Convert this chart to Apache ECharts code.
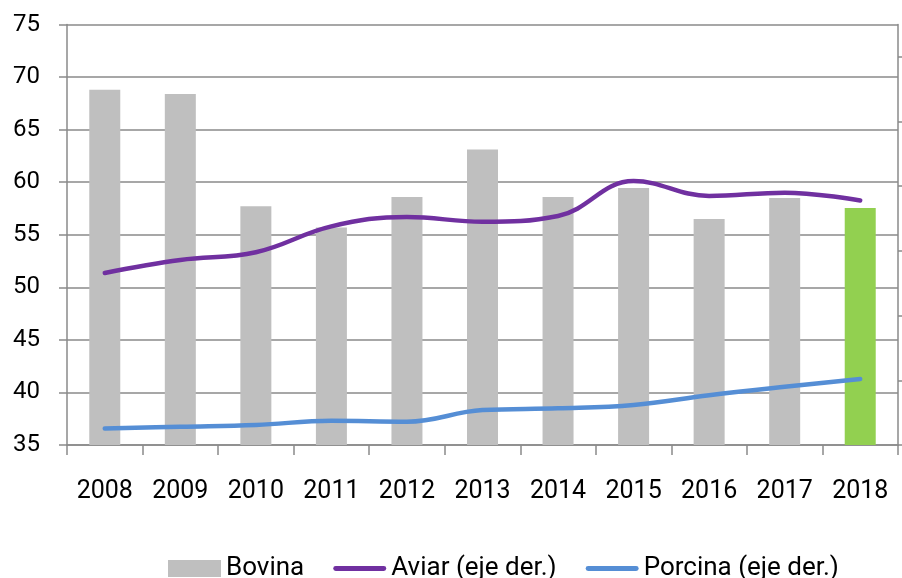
<!DOCTYPE html>
<html>
<head>
<meta charset="utf-8">
<script src="https://cdn.jsdelivr.net/npm/echarts@6/dist/echarts.min.js"></script>
<style>html,body{margin:0;padding:0;background:#fff}#c{width:902px;height:578px}</style>
</head>
<body>
<div id="c"></div>
<script>
var categories = ['2008','2009','2010','2011','2012','2013','2014','2015','2016','2017','2018'];
var bovina = [68.8, 68.4, 57.7, 55.7, 58.6, 63.1, 58.6, 59.45, 56.5, 58.5, 57.55];
var aviar = [26.6, 28.6, 29.8, 33.8, 35.25, 34.5, 35.4, 40.8, 38.5, 39.0, 37.8];
var porcina = [2.56, 2.83, 3.09, 3.75, 3.6, 5.4, 5.67, 6.2, 7.7, 9.0, 10.2];
var leftTicks = [35, 40, 45, 50, 55, 60, 65, 70, 75];
var rightTicks = [0, 10, 20, 30, 40, 50, 60];

var FONT = 'Roboto';
var GRID = '#8a8a8a';
var LINE_ICON = 'path://M2.5,0 H51.5 A2.5,2.5 0 0 1 51.5,5 H2.5 A2.5,2.5 0 0 1 2.5,0 Z';
var chart = echarts.init(document.getElementById('c'), null, {renderer: 'canvas'});
chart.setOption({
  animation: false,
  textStyle: {fontFamily: FONT},
  grid: {left: 67, right: 4, top: 24.5, bottom: 133, containLabel: false},
  legend: {
    left: 168, top: 553.5, padding: 0,
    itemWidth: 53, itemHeight: 17, itemGap: 29,
    textStyle: {fontFamily: FONT, fontSize: 26, color: '#000', lineHeight: 30},
    data: [
      {name: 'Bovina', icon: 'rect', itemStyle: {color: '#BFBFBF'}},
      {name: 'Aviar (eje der.)', icon: LINE_ICON},
      {name: 'Porcina (eje der.)', icon: LINE_ICON}
    ]
  },
  xAxis: {
    type: 'category', data: categories, boundaryGap: true,
    axisLine: {show: true, lineStyle: {color: GRID, width: 1.5}},
    axisTick: {show: true, length: 10, alignWithLabel: false, lineStyle: {color: GRID, width: 1.5}},
    axisLabel: {fontFamily: FONT, fontSize: 25, color: '#000', margin: 34, interval: 0}
  },
  yAxis: [
    {
      type: 'value', min: 35, max: 75, interval: 5, position: 'left',
      axisLine: {show: true, lineStyle: {color: GRID, width: 1.5}},
      axisTick: {show: true, length: 8, lineStyle: {color: GRID, width: 1.5}},
      axisLabel: {fontFamily: FONT, fontSize: 24, color: '#000', margin: 27,
        customValues: leftTicks},
      splitLine: {show: true, lineStyle: {color: GRID, width: 1.5}}
    },
    {
      type: 'value', min: 0, max: 65, position: 'right',
      axisLine: {show: true, lineStyle: {color: GRID, width: 1.5}},
      axisTick: {show: true, length: 6, customValues: rightTicks, lineStyle: {color: GRID, width: 1.5}},
      axisLabel: {show: false},
      splitLine: {show: false}
    }
  ],
  series: [
    {
      name: 'Bovina', type: 'bar', yAxisIndex: 0, barWidth: 31,
      itemStyle: {color: '#BFBFBF'},
      data: bovina.map(function (v, i) {
        return i === bovina.length - 1 ? {value: v, itemStyle: {color: '#92D050'}} : v;
      }),
      z: 2
    },
    {
      name: 'Aviar (eje der.)', type: 'line', yAxisIndex: 1, data: aviar,
      smooth: 0.4, showSymbol: false, symbol: 'none',
      itemStyle: {color: '#7030A0'},
      lineStyle: {color: '#7030A0', width: 4.5, cap: 'round'}, z: 3
    },
    {
      name: 'Porcina (eje der.)', type: 'line', yAxisIndex: 1, data: porcina,
      smooth: 0.4, showSymbol: false, symbol: 'none',
      itemStyle: {color: '#558ED5'},
      lineStyle: {color: '#558ED5', width: 4.5, cap: 'round'}, z: 3
    }
  ]
});
</script>
</body>
</html>
